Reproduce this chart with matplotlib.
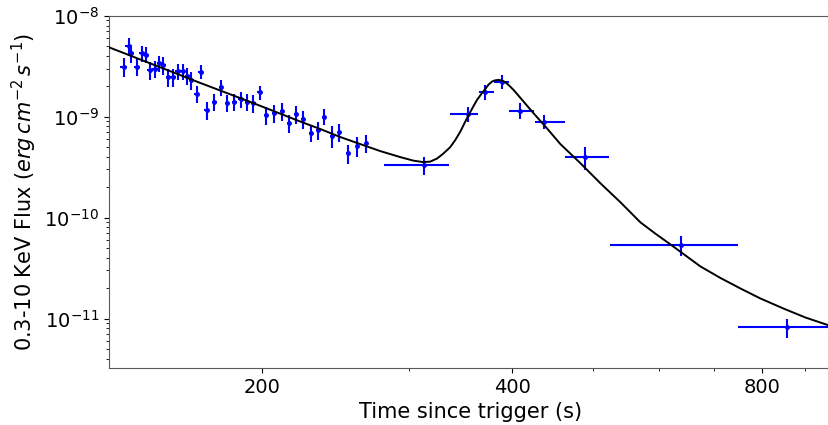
import matplotlib
matplotlib.use("Agg")
import numpy as np
import matplotlib.pyplot as plt
from matplotlib.ticker import NullFormatter, FixedFormatter, FixedLocator

# early, finely sampled light curve (time in s, flux in erg/cm2/s)
t_early = [136.2, 138.1, 139.1, 141.3, 143.5, 145.1, 146.6, 148.6, 150.4, 152.1,
           154.2, 156.1, 158.4, 160.4, 162.5, 164.3, 166.7, 168.7, 171.6, 175.2,
           178.4, 181.4, 185.2, 188.4, 191.7, 195.2, 198.5, 202.2, 206.9, 211.2,
           215.4, 219.6, 224.1, 228.7, 233.3, 237.5, 242.6, 247.7, 253.7, 260.3,
           266.9]
f_early = [3.14e-9, 4.98e-9, 4.29e-9, 3.14e-9, 4.29e-9, 4.12e-9, 2.89e-9, 2.99e-9, 3.39e-9, 3.26e-9,
           2.48e-9, 2.48e-9, 2.83e-9, 2.83e-9, 2.55e-9, 2.30e-9, 1.69e-9, 2.80e-9, 1.165e-9, 1.41e-9,
           1.97e-9, 1.38e-9, 1.41e-9, 1.49e-9, 1.41e-9, 1.36e-9, 1.74e-9, 1.04e-9, 1.08e-9, 1.13e-9,
           8.66e-10, 1.056e-9, 9.42e-10, 6.97e-10, 7.43e-10, 1.0e-9, 6.46e-10, 7.05e-10, 4.33e-10, 5.12e-10,
           5.44e-10]
ferr_early = [0.22, 0.2, 0.2, 0.2, 0.18, 0.18, 0.2, 0.2, 0.18, 0.2,
              0.2, 0.2, 0.18, 0.18, 0.2, 0.2, 0.2, 0.16, 0.2, 0.2,
              0.18, 0.2, 0.2, 0.18, 0.2, 0.2, 0.16, 0.2, 0.2, 0.2,
              0.2, 0.2, 0.2, 0.2, 0.2, 0.18, 0.24, 0.2, 0.22, 0.22,
              0.2]
terr_early = 1.2

# late, time-binned points
t_late = [312.8, 353.8, 371.2, 388.7, 408.9, 436.2, 489.7, 638.6, 856.7]
t_lo = [280.0, 336.8, 364.3, 379.8, 395.9, 425.5, 463.4, 523.9, 747.9]
t_hi = [335.9, 363.3, 380.5, 395.9, 424.3, 462.5, 523.4, 747.1, 965.0]
f_late = [3.31e-10, 1.064e-9, 1.75e-9, 2.23e-9, 1.147e-9, 8.92e-10, 3.98e-10, 5.41e-11, 8.21e-12]
ferr_late = [0.2, 0.17, 0.17, 0.16, 0.18, 0.16, 0.26, 0.23, 0.22]

# best-fit model
t_model = [130.8, 146.6, 168.4, 193.5, 222.2, 234.9, 248.3, 262.4, 277.4, 293.2,
           304.0, 312.5, 318.6, 324.6, 330.4, 336.8, 341.5, 346.3, 350.2, 354.4,
           358.5, 362.7, 367.1, 371.2, 374.2, 378.1, 381.1, 385.1, 388.5, 392.3,
           396.7, 401.4, 406.7, 412.7, 424.3, 440.3, 457.0, 483.0, 510.5, 539.7,
           570.4, 594.6, 619.9, 646.2, 673.7, 712.0, 752.7, 795.6, 848.0, 901.3,
           963.3]
f_model = [4.867e-9, 3.376e-9, 2.161e-9, 1.400e-9, 8.96e-10, 7.55e-10, 6.29e-10, 5.357e-10, 4.565e-10, 3.98e-10,
           3.673e-10, 3.549e-10, 3.59e-10, 3.845e-10, 4.31e-10, 5.0e-10, 5.87e-10, 7.10e-10, 8.56e-10, 1.04e-9,
           1.234e-9, 1.465e-9, 1.680e-9, 1.884e-9, 2.064e-9, 2.227e-9, 2.288e-9, 2.315e-9, 2.278e-9, 2.196e-9,
           2.027e-9, 1.841e-9, 1.624e-9, 1.41e-9, 1.081e-9, 7.67e-10, 5.357e-10, 3.468e-10, 2.196e-10, 1.422e-10,
           9.0e-11, 6.95e-11, 5.44e-11, 4.23e-11, 3.29e-11, 2.53e-11, 1.99e-11, 1.584e-11, 1.26e-11, 1.026e-11,
           8.54e-12]

fig = plt.figure(figsize=(8.29, 4.25), dpi=100)
ax = fig.add_axes([0.1315, 0.134, 0.872, 0.829])

fe = np.array(f_early)
ax.errorbar(t_early, fe, xerr=terr_early, yerr=fe * np.array(ferr_early),
            fmt='b.', ms=5, lw=1.5, capsize=0)
fl = np.array(f_late)
tl = np.array(t_late)
xerr_late = [tl - np.array(t_lo), np.array(t_hi) - tl]
ax.errorbar(tl, fl, xerr=xerr_late, yerr=fl * np.array(ferr_late),
            fmt='b.', ms=5, lw=1.5, capsize=0)
ax.plot(t_model, f_model, color='black', lw=1.4, zorder=5)

ax.set_xscale('log')
ax.set_yscale('log')
ax.set_xlim(130.8, 970)
ax.set_ylim(3.24e-12, 1e-8)
ax.xaxis.set_major_locator(FixedLocator([200, 400, 800]))
ax.xaxis.set_major_formatter(FixedFormatter(['200', '400', '800']))
ax.xaxis.set_minor_formatter(NullFormatter())
ax.tick_params(labelsize=14)
for s in ax.spines.values():
    s.set_color('0.35')
ax.spines['right'].set_visible(False)

ax.set_xlabel('Time since trigger (s)', fontsize=15)
ax.set_ylabel(r'0.3-10 KeV Flux ($erg\,cm^{-2}\,s^{-1}$)', fontsize=15)

fig.savefig('out.png', dpi=100)
